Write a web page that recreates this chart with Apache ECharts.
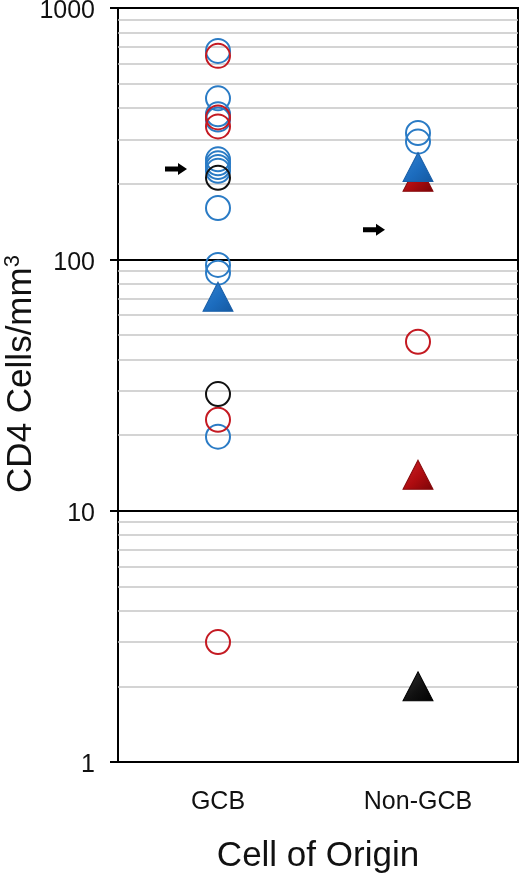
<!DOCTYPE html>
<html>
<head>
<meta charset="utf-8">
<script src="https://cdn.jsdelivr.net/npm/echarts@6/dist/echarts.min.js"></script>
<style>
  html, body { margin: 0; padding: 0; background: #fff; }
  #chart { width: 520px; height: 876px; }
</style>
</head>
<body>
<div id="chart"></div>
<script>
// Cell-of-origin groups on the x axis
const categories = ['GCB', 'Non-GCB'];

// CD4 counts (cells/mm3), one array per marker style and group
const gcbBlueCircles = [675, 437, 378, 360, 250, 241, 233, 225, 160, 95, 88.5, 19.7];
const gcbRedCircles = [645, 367, 338, 23, 3.0];
const gcbBlackCircles = [211, 29.1];
const gcbBlueTriangles = [71];
const nonGcbBlueCircles = [318, 294];
const nonGcbRedCircles = [47];
const nonGcbRedTriangles = [213, 13.9];
const nonGcbBlueTriangles = [233];
const nonGcbBlackTriangles = [2.0];

// Arrow annotations (value level per group)
const arrowValues = [229, 131];

// Log-axis ticks and minor gridline values
const yTicks = [1, 10, 100, 1000];
const minorLines = [2, 3, 4, 5, 6, 7, 8, 9, 20, 30, 40, 50, 60, 70, 80, 90, 200, 300, 400, 500, 600, 700, 800, 900];

const FONT = '"Liberation Sans", Arial, sans-serif';
const BLUE = '#2a7bc5';
const RED = '#c41a22';
const BLACK = '#111111';

function pts(cat, values) {
  return values.map(v => [cat, v]);
}

function circleSeries(name, cat, values, color) {
  return {
    name, type: 'scatter', z: 3,
    data: pts(cat, values),
    symbol: 'circle', symbolSize: 24,
    itemStyle: { color: 'rgba(0,0,0,0)', borderColor: color, borderWidth: 2, opacity: 1 },
    emphasis: { disabled: true }, silent: true
  };
}

function shade(light, mid, dark) {
  return {
    type: 'linear', x: 0, y: 0, x2: 1, y2: 1,
    colorStops: [
      { offset: 0, color: light },
      { offset: 0.55, color: mid },
      { offset: 1, color: dark }
    ]
  };
}

function triangleSeries(name, cat, values, fill, edge, z) {
  return {
    name, type: 'scatter', z,
    data: pts(cat, values),
    symbol: 'triangle', symbolSize: [30, 29],
    itemStyle: { color: fill, borderColor: edge, borderWidth: 1, opacity: 1 },
    emphasis: { disabled: true }, silent: true
  };
}

const ARROW = 'path://M0,3.5 L13,3.5 L13,0 L22,6 L13,12 L13,8.5 L0,8.5 Z';

const chart = echarts.init(document.getElementById('chart'), null, { renderer: 'canvas' });

chart.setOption({
  animation: false,
  backgroundColor: '#ffffff',
  grid: {
    left: 118, right: 2, top: 8, bottom: 114,
    containLabel: false, outerBoundsMode: 'none',
    show: true, borderColor: '#000', borderWidth: 2, backgroundColor: 'transparent'
  },
  xAxis: {
    type: 'category',
    data: categories,
    boundaryGap: true,
    axisLine: { show: true, lineStyle: { color: '#000', width: 2 } },
    axisTick: { show: false },
    axisLabel: { margin: 28, fontFamily: FONT, fontSize: 25, color: '#111' },
    splitLine: { show: false },
    name: 'Cell of Origin',
    nameLocation: 'middle',
    nameGap: 77,
    nameMoveOverlap: false,
    nameTextStyle: { fontFamily: FONT, fontSize: 35, color: '#111' }
  },
  yAxis: {
    type: 'log',
    logBase: 10,
    min: yTicks[0],
    max: yTicks[yTicks.length - 1],
    axisLine: { show: true, lineStyle: { color: '#000', width: 2 } },
    axisTick: { show: true, length: 8, lineStyle: { color: '#000', width: 2 } },
    axisLabel: {
      margin: 23, fontFamily: FONT, fontSize: 25, color: '#111',
      verticalAlign: 'top', lineHeight: 7,
      formatter: v => String(Math.round(v))
    },
    splitLine: { show: true, lineStyle: { color: '#000', width: 2 } },
    name: 'CD4 Cells/mm{sup|3}',
    nameLocation: 'middle',
    nameRotate: 90,
    nameGap: 78,
    nameMoveOverlap: false,
    nameTextStyle: {
      fontFamily: FONT, fontSize: 35, color: '#111',
      padding: [0, 0, 0, 22],
      rich: { sup: { fontFamily: FONT, fontSize: 22, color: '#111', verticalAlign: 'top', padding: [0, 0, 16, 0] } }
    }
  },
  series: [
    {
      name: 'minor-grid', type: 'scatter', data: [], silent: true, z: 1,
      markLine: {
        silent: true, z: 1, symbol: 'none', animation: false,
        label: { show: false },
        lineStyle: { color: '#c6c6c6', width: 1.5, type: 'solid', opacity: 1 },
        emphasis: { disabled: true },
        data: minorLines.map(v => ({ yAxis: v }))
      }
    },
    circleSeries('GCB blue', 'GCB', gcbBlueCircles, BLUE),
    circleSeries('GCB red', 'GCB', gcbRedCircles, RED),
    circleSeries('GCB black', 'GCB', gcbBlackCircles, BLACK),
    triangleSeries('GCB blue tri', 'GCB', gcbBlueTriangles, shade('#3383d0', '#1c6cbe', '#15589f'), '#1a5fa8', 4),
    circleSeries('Non-GCB blue', 'Non-GCB', nonGcbBlueCircles, BLUE),
    circleSeries('Non-GCB red', 'Non-GCB', nonGcbRedCircles, RED),
    triangleSeries('Non-GCB red tri', 'Non-GCB', nonGcbRedTriangles, shade('#d0232a', '#ae0c10', '#780407'), '#860a0c', 4),
    triangleSeries('Non-GCB blue tri', 'Non-GCB', nonGcbBlueTriangles, shade('#3383d0', '#1c6cbe', '#15589f'), '#1a5fa8', 5),
    triangleSeries('Non-GCB black tri', 'Non-GCB', nonGcbBlackTriangles, shade('#333333', '#111111', '#000000'), '#000', 4),
    {
      name: 'arrows', type: 'scatter', z: 6, silent: true,
      symbol: ARROW, symbolSize: [22, 12],
      itemStyle: { color: '#000', opacity: 1 },
      emphasis: { disabled: true },
      data: [
        { value: [categories[0], arrowValues[0]], symbolOffset: [-42, 0] },
        { value: [categories[1], arrowValues[1]], symbolOffset: [-44, 0] }
      ]
    }
  ]
});
</script>
</body>
</html>
